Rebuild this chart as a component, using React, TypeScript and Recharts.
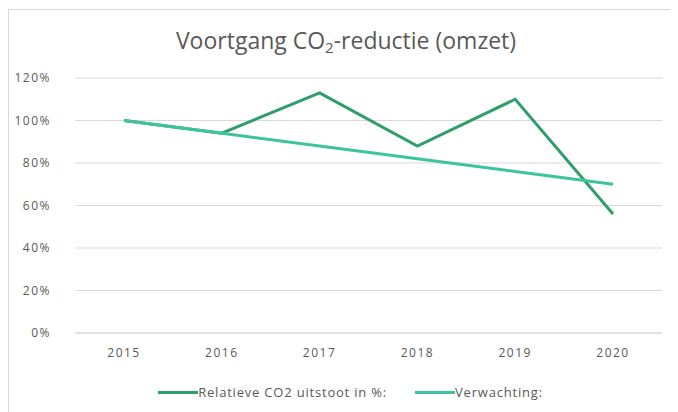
import { CartesianGrid, Legend, Line, LineChart, XAxis, YAxis } from "recharts";

const years = ["2015", "2016", "2017", "2018", "2019", "2020"];
const relatief = [100, 94, 113, 88, 110, 56];
const verwachting = [100, 94, 88, 82, 76, 70];
const yTicks = [0, 20, 40, 60, 80, 100, 120];

const seriesNames = ["Relatieve CO2 uitstoot in %:", "Verwachting:"];
const seriesColors = ["#2f9e6c", "#3ec49c"];

const data = years.map((year, i) => ({
  year,
  relatief: relatief[i],
  verwachting: verwachting[i],
}));

const FONT = "'Open Sans', sans-serif";
const TEXT = "#595959";

function LegendContent() {
  return (
    <div
      style={{
        display: "flex",
        justifyContent: "center",
        alignItems: "center",
        height: 24,
        paddingLeft: 14,
        fontFamily: FONT,
        fontSize: 13,
        letterSpacing: 0.8,
        color: TEXT,
      }}
    >
      {seriesNames.map((name, i) => (
        <div key={name} style={{ display: "flex", alignItems: "center", marginRight: i === 0 ? 28 : 0 }}>
          <span style={{ width: 40, height: 3, background: seriesColors[i], display: "inline-block" }} />
          <span>{name}</span>
        </div>
      ))}
    </div>
  );
}

export default function App() {
  return (
    <div
      style={{
        position: "relative",
        width: 669,
        height: 402,
        marginTop: 1,
        borderTop: "1px solid #d9d9d9",
        borderLeft: "1px solid #d9d9d9",
        background: "#fff",
      }}
    >
      <div
        style={{
          position: "absolute",
          top: 14,
          left: 0,
          width: 674,
          textAlign: "center",
          fontFamily: FONT,
          fontSize: 23,
          color: TEXT,
        }}
      >
        Voortgang CO<sub style={{ fontSize: 15, verticalAlign: "-4px" }}>2</sub>-reductie (omzet)
      </div>
      <LineChart
        width={664}
        height={400}
        data={data}
        margin={{ top: 68, right: 11, left: 16, bottom: 6 }}
      >
        <CartesianGrid stroke="#d9d9d9" vertical={false} />
        <XAxis
          dataKey="year"
          height={47}
          padding={{ left: 49, right: 49 }}
          tickLine={false}
          axisLine={{ stroke: "#d9d9d9" }}
          tick={{ fontSize: 12, fill: TEXT, fontFamily: FONT, letterSpacing: 1.5 }}
          tickMargin={9}
        />
        <YAxis
          width={50}
          domain={[0, 120]}
          ticks={yTicks}
          tickFormatter={(v: number) => `${v}%`}
          tickLine={false}
          axisLine={false}
          tick={{ fontSize: 12, fill: TEXT, fontFamily: FONT, letterSpacing: 1.5 }}
          tickMargin={18}
        />
        <Legend verticalAlign="bottom" content={<LegendContent />} />
        <Line
          dataKey="relatief"
          name={seriesNames[0]}
          stroke={seriesColors[0]}
          strokeWidth={3}
          dot={false}
          isAnimationActive={false}
        />
        <Line
          dataKey="verwachting"
          name={seriesNames[1]}
          stroke={seriesColors[1]}
          strokeWidth={3}
          dot={false}
          isAnimationActive={false}
        />
      </LineChart>
    </div>
  );
}
